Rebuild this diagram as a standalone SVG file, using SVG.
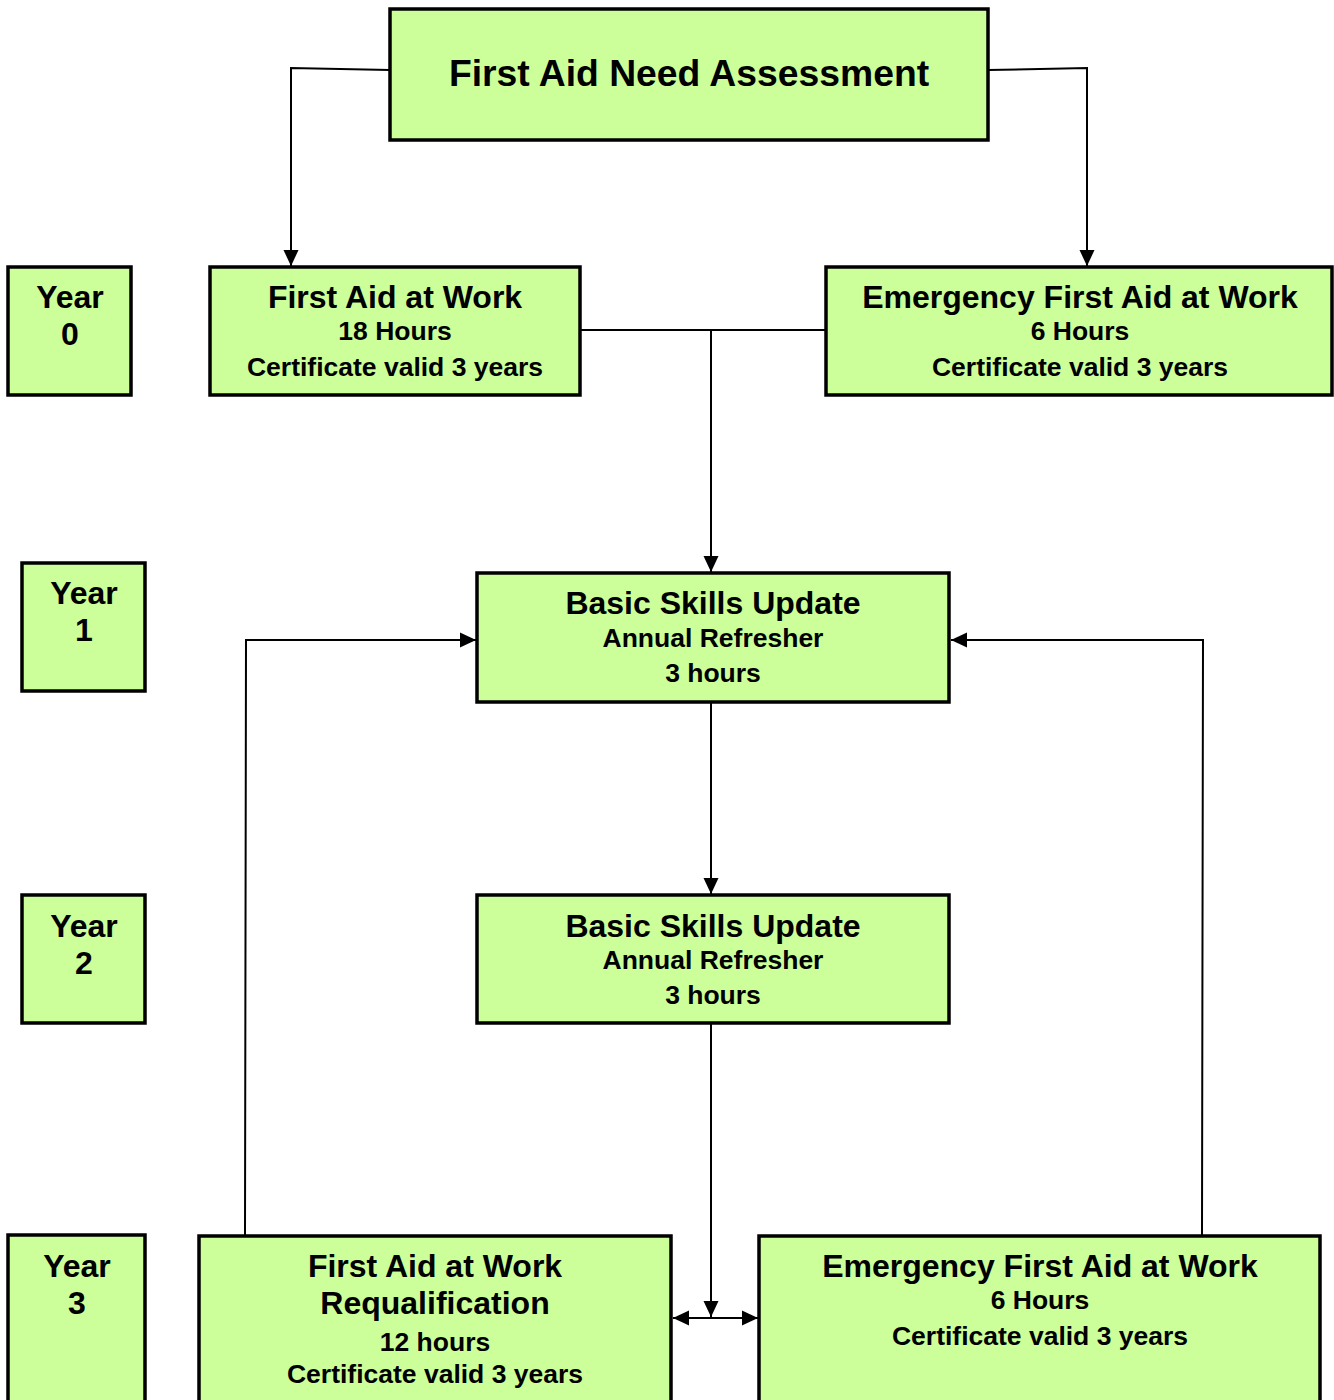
<svg xmlns="http://www.w3.org/2000/svg" width="1334" height="1400" viewBox="0 0 1334 1400">
<style>
.box{fill:#ccff99;stroke:#000;stroke-width:3.5}
.t{font-family:"Liberation Sans",Arial,sans-serif;font-weight:bold;fill:#000;text-anchor:middle}
.h{font-size:32px}
.s{font-size:26.5px}
.c{fill:none;stroke:#000;stroke-width:2}
</style>
<defs>
<marker id="ah" markerUnits="userSpaceOnUse" markerWidth="17" markerHeight="17" viewBox="0 0 17 17" refX="16" refY="8.5" orient="auto-start-reverse">
<path d="M0,1 L16,8.5 L0,16 Z" fill="#000"/>
</marker>
</defs>
<rect width="1334" height="1400" fill="#fff"/>
<g id="connectors">
<polyline class="c" points="390,70 291,68 291,266" marker-end="url(#ah)"/>
<polyline class="c" points="988,70 1087,68 1087,266" marker-end="url(#ah)"/>
<line class="c" x1="580" y1="330" x2="826" y2="330"/>
<line class="c" x1="711" y1="330" x2="711" y2="572" marker-end="url(#ah)"/>
<line class="c" x1="711" y1="702" x2="711" y2="894" marker-end="url(#ah)"/>
<line class="c" x1="711" y1="1023" x2="711" y2="1317" marker-end="url(#ah)"/>
<line class="c" x1="673" y1="1318" x2="758" y2="1318" marker-start="url(#ah)" marker-end="url(#ah)"/>
<polyline class="c" points="245,1235 246,640 476,640" marker-end="url(#ah)"/>
<polyline class="c" points="1202,1235 1203,640 951,640" marker-end="url(#ah)"/>
</g>
<g id="need">
<rect class="box" x="390" y="9" width="598" height="131"/>
<text class="t" x="689" y="86" font-size="37.3">First Aid Need Assessment</text>
</g>
<g id="year0">
<rect class="box" x="8" y="267" width="123" height="128"/>
<text class="t h" x="70" y="308">Year</text>
<text class="t h" x="70" y="345">0</text>
</g>
<g id="faw">
<rect class="box" x="210" y="267" width="370" height="128"/>
<text class="t h" x="395" y="308">First Aid at Work</text>
<text class="t s" x="395" y="340">18 Hours</text>
<text class="t s" x="395" y="376">Certificate valid 3 years</text>
</g>
<g id="efaw">
<rect class="box" x="826" y="267" width="506" height="128"/>
<text class="t h" x="1080" y="308">Emergency First Aid at Work</text>
<text class="t s" x="1080" y="340">6 Hours</text>
<text class="t s" x="1080" y="376">Certificate valid 3 years</text>
</g>
<g id="year1">
<rect class="box" x="22" y="563" width="123" height="128"/>
<text class="t h" x="84" y="604">Year</text>
<text class="t h" x="84" y="641">1</text>
</g>
<g id="bsu1">
<rect class="box" x="477" y="573" width="472" height="129"/>
<text class="t h" x="713" y="614">Basic Skills Update</text>
<text class="t s" x="713" y="647">Annual Refresher</text>
<text class="t s" x="713" y="682">3 hours</text>
</g>
<g id="year2">
<rect class="box" x="22" y="895" width="123" height="128"/>
<text class="t h" x="84" y="937">Year</text>
<text class="t h" x="84" y="974">2</text>
</g>
<g id="bsu2">
<rect class="box" x="477" y="895" width="472" height="128"/>
<text class="t h" x="713" y="937">Basic Skills Update</text>
<text class="t s" x="713" y="969">Annual Refresher</text>
<text class="t s" x="713" y="1004">3 hours</text>
</g>
<g id="year3">
<rect class="box" x="8" y="1235" width="137" height="180"/>
<text class="t h" x="77" y="1277">Year</text>
<text class="t h" x="77" y="1314">3</text>
</g>
<g id="fawreq">
<rect class="box" x="199" y="1236" width="472" height="180"/>
<text class="t h" x="435" y="1277">First Aid at Work</text>
<text class="t h" x="435" y="1314">Requalification</text>
<text class="t s" x="435" y="1351">12 hours</text>
<text class="t s" x="435" y="1383">Certificate valid 3 years</text>
</g>
<g id="efaw3">
<rect class="box" x="759" y="1236" width="561" height="180"/>
<text class="t h" x="1040" y="1277">Emergency First Aid at Work</text>
<text class="t s" x="1040" y="1309">6 Hours</text>
<text class="t s" x="1040" y="1345">Certificate valid 3 years</text>
</g>
</svg>
